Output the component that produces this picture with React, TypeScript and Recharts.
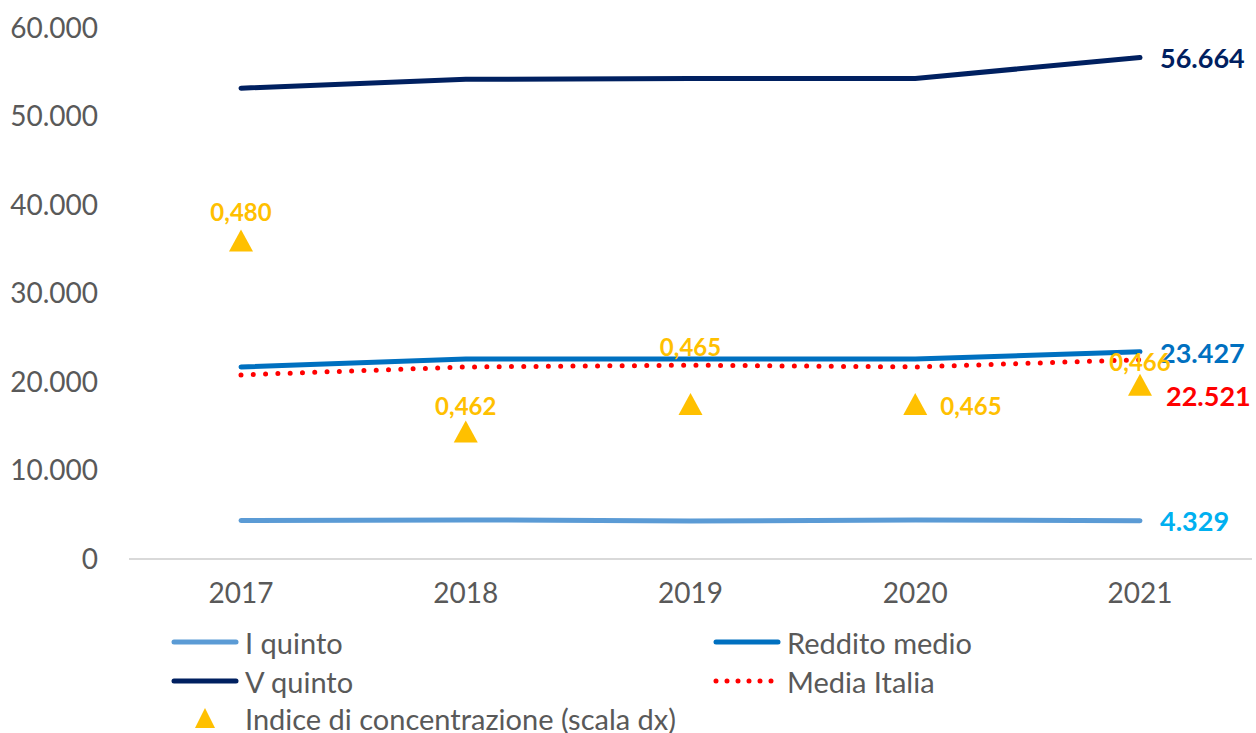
import React from "react";
import {
  ComposedChart,
  Line,
  Scatter,
  XAxis,
  YAxis,
  LabelList,
} from "recharts";

const years = ["2017", "2018", "2019", "2020", "2021"];
const quintoI = [4350, 4420, 4300, 4400, 4329];
const redditoMedio = [21700, 22600, 22600, 22600, 23427];
const quintoV = [53200, 54200, 54300, 54300, 56664];
const mediaItalia = [20800, 21700, 21900, 21700, 22521];
const indice = [0.48, 0.462, 0.4646, 0.4646, 0.4664];
const yTicks = [0, 10000, 20000, 30000, 40000, 50000, 60000];

const FONT = "Lato, 'Open Sans', sans-serif";
const GREY = "#595959";
const C_Q1 = "#5B9BD5";
const C_MEDIO = "#0070C0";
const C_Q5 = "#002060";
const C_ITALIA = "#FF0000";
const C_IND = "#FFC000";

// label offsets for the concentration index (relative to triangle centre)
const indiceLabelOffset = [
  { dx: 0, dy: -29, anchor: "middle" },
  { dx: 0, dy: -26, anchor: "middle" },
  { dx: 0, dy: -57, anchor: "middle" },
  { dx: 25, dy: 2, anchor: "start" },
  { dx: 0, dy: -23, anchor: "middle" },
];

const data = years.map((y, i) => ({
  year: y,
  q1: quintoI[i],
  medio: redditoMedio[i],
  q5: quintoV[i],
  italia: mediaItalia[i],
  indice: indice[i],
}));

function fmtThousands(v: number) {
  return String(Math.round(v)).replace(/\B(?=(\d{3})+(?!\d))/g, ".");
}

function fmtIndice(v: number) {
  return v.toFixed(3).replace(".", ",");
}

function endLabel(color: string, dx: number, dy: number) {
  return (props: any) => {
    const { x, y, value, index } = props;
    if (index !== years.length - 1) return null;
    return (
      <text
        x={x + dx}
        y={y + dy}
        fill={color}
        fontSize={27}
        fontWeight={700}
        fontFamily={FONT}
        dominantBaseline="central"
      >
        {fmtThousands(value)}
      </text>
    );
  };
}

function Triangle(props: any) {
  const { cx, cy } = props;
  if (cx == null || cy == null) return null;
  return (
    <polygon
      points={`${cx},${cy - 11} ${cx - 12},${cy + 11} ${cx + 12},${cy + 11}`}
      fill={C_IND}
    />
  );
}

function IndiceLabel(props: any) {
  const { x, y, width, height, value, index } = props;
  const cx = x + (width || 0) / 2;
  const cy = y + (height || 0) / 2;
  const o = indiceLabelOffset[index] || { dx: 0, dy: -28, anchor: "middle" };
  return (
    <text
      x={cx + o.dx}
      y={cy + o.dy}
      fill={C_IND}
      fontSize={24}
      fontWeight={700}
      fontFamily={FONT}
      textAnchor={o.anchor}
      dominantBaseline="central"
    >
      {fmtIndice(value)}
    </text>
  );
}

function LegendLine({ color, dotted }: { color: string; dotted?: boolean }) {
  return (
    <svg width={70} height={10} style={{ display: "block" }}>
      <line
        x1={4}
        y1={5}
        x2={66}
        y2={5}
        stroke={color}
        strokeWidth={5}
        strokeLinecap="round"
        strokeDasharray={dotted ? "0 11" : undefined}
      />
    </svg>
  );
}

function LegendRow({
  left,
  top,
  label,
  children,
}: {
  left: number;
  top: number;
  label: string;
  children: React.ReactNode;
}) {
  return (
    <div
      style={{
        position: "absolute",
        left,
        top: top - 20,
        height: 40,
        display: "flex",
        alignItems: "center",
        fontFamily: FONT,
        fontSize: 29,
        color: GREY,
        whiteSpace: "nowrap",
      }}
    >
      <div style={{ width: 80, display: "flex", justifyContent: "center" }}>{children}</div>
      <span>{label}</span>
    </div>
  );
}

export default function App() {
  return (
    <div
      style={{
        position: "absolute",
        left: 0,
        top: 0,
        width: 1256,
        height: 733,
        background: "#fff",
        overflow: "hidden",
      }}
    >
      <ComposedChart
        width={1256}
        height={733}
        data={data}
        margin={{ top: 28, right: 4, bottom: 134, left: 0 }}
      >
        <XAxis
          dataKey="year"
          height={40}
          padding={{ left: 112, right: 112 }}
          axisLine={{ stroke: "#D9D9D9", strokeWidth: 2 }}
          tickLine={false}
          tickSize={0}
          tickMargin={24}
          tick={{ fontSize: 28, fill: GREY, fontFamily: FONT }}
        />
        <YAxis
          yAxisId="left"
          width={129}
          domain={[0, 60000]}
          ticks={yTicks}
          axisLine={false}
          tickLine={false}
          tickSize={0}
          tickMargin={31}
          tickFormatter={fmtThousands}
          tick={{ fontSize: 28, fill: GREY, fontFamily: FONT }}
        />
        <YAxis yAxisId="right" orientation="right" hide domain={[0.45, 0.5]} />
        <Line
          yAxisId="left"
          dataKey="q1"
          stroke={C_Q1}
          strokeWidth={5}
          strokeLinecap="round"
          dot={false}
          isAnimationActive={false}
        >
          <LabelList dataKey="q1" content={endLabel("#00B0F0", 20, 0)} />
        </Line>
        <Line
          yAxisId="left"
          dataKey="italia"
          stroke={C_ITALIA}
          strokeWidth={5}
          strokeLinecap="round"
          strokeDasharray="0 12.3"
          dot={false}
          isAnimationActive={false}
        >
          <LabelList dataKey="italia" content={endLabel(C_ITALIA, 26, 36)} />
        </Line>
        <Line
          yAxisId="left"
          dataKey="medio"
          stroke={C_MEDIO}
          strokeWidth={5}
          strokeLinecap="round"
          dot={false}
          isAnimationActive={false}
        >
          <LabelList dataKey="medio" content={endLabel(C_MEDIO, 20, 1)} />
        </Line>
        <Line
          yAxisId="left"
          dataKey="q5"
          stroke={C_Q5}
          strokeWidth={5}
          strokeLinecap="round"
          dot={false}
          isAnimationActive={false}
        >
          <LabelList dataKey="q5" content={endLabel(C_Q5, 20, 0)} />
        </Line>
        <Scatter
          yAxisId="right"
          dataKey="indice"
          shape={<Triangle />}
          isAnimationActive={false}
        >
          <LabelList dataKey="indice" content={<IndiceLabel />} />
        </Scatter>
      </ComposedChart>

      <LegendRow left={165} top={642} label="I quinto">
        <LegendLine color={C_Q1} />
      </LegendRow>
      <LegendRow left={707} top={642} label="Reddito medio">
        <LegendLine color={C_MEDIO} />
      </LegendRow>
      <LegendRow left={165} top={681} label="V quinto">
        <LegendLine color={C_Q5} />
      </LegendRow>
      <LegendRow left={707} top={681} label="Media Italia">
        <LegendLine color={C_ITALIA} dotted />
      </LegendRow>
      <LegendRow left={165} top={718} label="Indice di concentrazione (scala dx)">
        <svg width={24} height={22} style={{ display: "block" }}>
          <polygon points="12,1 2,21 22,21" fill={C_IND} />
        </svg>
      </LegendRow>
    </div>
  );
}
